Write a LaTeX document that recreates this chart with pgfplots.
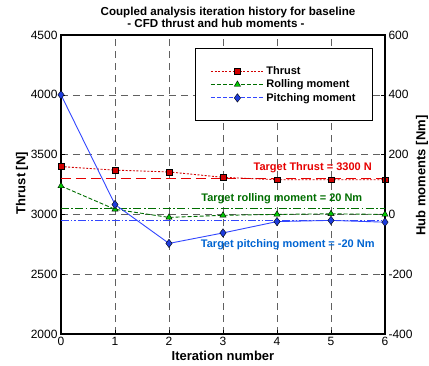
\documentclass[border=0pt]{standalone}
\usepackage{fontspec}
\setmainfont{Liberation Sans}
\usepackage{pgfplots}
\pgfplotsset{compat=1.18}

\definecolor{thrustred}{RGB}{210,0,0}
\definecolor{targetred}{RGB}{230,0,0}
\definecolor{rollgreen}{RGB}{0,110,0}
\definecolor{rollmark}{RGB}{0,200,0}
\definecolor{pitchblue}{RGB}{50,70,255}
\definecolor{pitchmark}{RGB}{30,60,220}
\definecolor{pitchtext}{RGB}{0,100,210}

% Series styles as TikZ styles, so that plots and legend samples share them
\tikzset{
  labelfont/.style={font=\fontsize{11}{13}\selectfont\bfseries},
  thrustline/.style={draw=thrustred, dash pattern=on 2pt off 1.6pt, line width=0.9pt,
    mark=square*, mark size=2.9pt, mark options={solid, fill=thrustred, draw=black, line width=0.4pt}},
  rollline/.style={draw=rollgreen, dash pattern=on 4pt off 2pt, line width=0.9pt,
    mark=triangle*, mark size=3.6pt, mark options={solid, fill=rollmark, draw=black, line width=0.4pt}},
  pitchline/.style={draw=pitchblue, line width=0.9pt,
    mark=diamond*, mark size=4.2pt, mark options={solid, fill=pitchmark, draw=black, line width=0.4pt}},
}

\pgfplotsset{
  common/.style={
    scale only axis, width=324pt, height=299pt,
    xmin=0, xmax=6,
    /pgf/number format/assume math mode=true,
    /pgf/number format/1000 sep={},
    tick label style={font=\fontsize{12}{14}\selectfont},
    label style={font=\fontsize{13}{15}\selectfont\bfseries},
    axis line style={line width=1.4pt},
    major tick length=4pt, tick align=inside,
    tick style={black, line width=0.6pt},
  },
  % long legend sample drawn in the given series style
  leg/.style={legend image code/.code={
    \draw[mark repeat=2, mark phase=2, #1] plot coordinates {(0pt,0pt) (26.5pt,0pt) (53pt,0pt)};}},
}

\begin{document}
\begin{tikzpicture}
\useasboundingbox (-61pt,-31pt) rectangle (368pt,334pt);
% Left axis: thrust
\begin{axis}[common,
  ymin=2000, ymax=4500,
  xtick={0,...,6}, ytick={2000,2500,...,4500},
  ytick pos=left, xtick pos=bottom,
  grid=major,
  major grid style={gray!75!black, dash pattern=on 7pt off 5pt, line width=0.5pt},
  xlabel={Iteration number}, ylabel={Thrust [N]},
  xlabel style={at={(axis description cs:0.5,-0.072)}, anchor=center},
  ylabel style={at={(axis description cs:-0.12,0.505)}, anchor=center},
  title style={font=\fontsize{11.6}{12}\selectfont\bfseries, align=center,
    at={(axis description cs:0.5,1)}, anchor=center, yshift=12pt},
  title={\hspace*{10pt}Coupled analysis iteration history for baseline\\- CFD thrust and hub moments -\hspace*{14pt}},
]
\addplot[targetred, line width=1.4pt, dash pattern=on 10pt off 5pt] coordinates {(0,3300) (6,3300)};
\addplot[thrustline] coordinates {
  (0,3400) (1,3370) (2,3355) (3,3310) (4,3290) (5,3290) (6,3290)};
\end{axis}

% Right axis: hub moments
\begin{axis}[common,
  ymin=-400, ymax=600,
  ytick={-400,-200,...,600},
  axis y line*=right, axis x line=none,
  ylabel={Hub moments [Nm]},
  ylabel style={at={(axis description cs:1.114,0.53)}, anchor=center},
  legend style={at={(axis description cs:0.963,0.957)}, anchor=north east,
    font=\fontsize{11}{13}\selectfont\bfseries,
    draw=black, line width=0.8pt,
    inner xsep=15pt, inner ysep=16pt,
    nodes={inner sep=2pt},
    row sep=0pt, cells={anchor=west}},
  legend cell align=left,
]
\addlegendimage{thrustline, leg={thrustline}}
\addlegendentry{Thrust}
\addlegendimage{rollline, leg={rollline}}
\addlegendentry{Rolling moment}
\addlegendimage{pitchline, leg={pitchline, dash pattern=on 4pt off 2pt}}
\addlegendentry{Pitching moment}
\addplot[rollgreen, line width=1.1pt, dash pattern=on 8pt off 2.5pt on 1.5pt off 2.5pt, forget plot] coordinates {(0,20) (6,20)};
\addplot[pitchblue, line width=1.1pt, dash pattern=on 8pt off 2pt on 1.5pt off 2pt on 1.5pt off 2pt, forget plot] coordinates {(0,-20) (6,-20)};
\addplot[rollline, forget plot] coordinates {
  (0,95) (1,17) (2,-10) (3,-3) (4,0) (5,2) (6,0)};
\addplot[pitchline, forget plot] coordinates {
  (0,400) (1,33) (2,-97) (3,-62) (4,-24) (5,-20) (6,-26)};

\node[targetred, labelfont, anchor=east] at (axis cs:5.82,155) {Target Thrust = 3300 N};
\node[rollgreen, labelfont] at (axis cs:4.09,52) {Target rolling moment = 20 Nm};
\node[pitchtext, labelfont] at (axis cs:4.2,-102) {Target pitching moment = -20 Nm};
\end{axis}
\end{tikzpicture}
\end{document}
